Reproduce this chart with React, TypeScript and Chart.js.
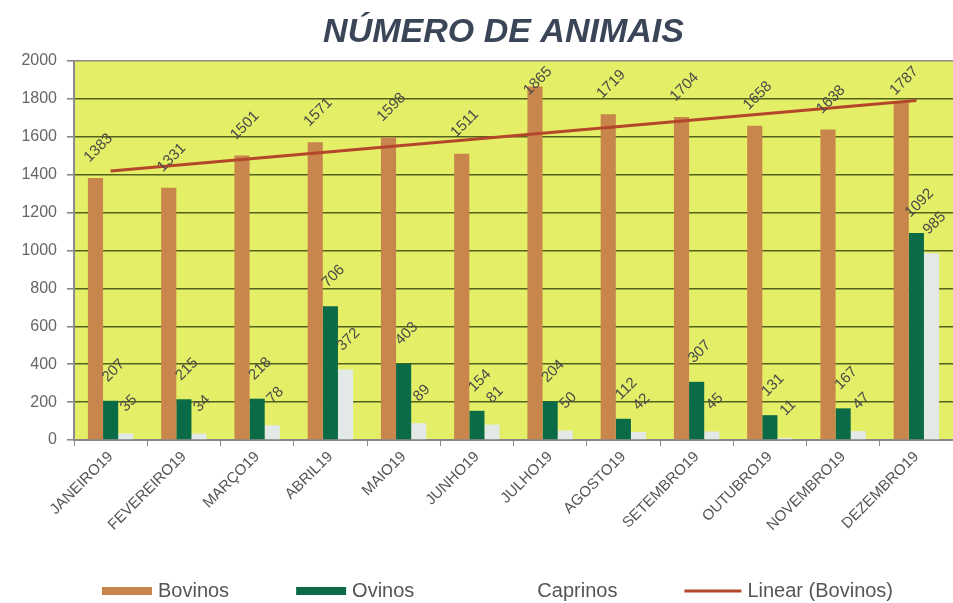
import React, { useEffect, useRef } from "react";
import { Chart, registerables } from "chart.js";

Chart.register(...registerables);

const categories = [
  "JANEIRO19", "FEVEREIRO19", "MARÇO19", "ABRIL19", "MAIO19", "JUNHO19",
  "JULHO19", "AGOSTO19", "SETEMBRO19", "OUTUBRO19", "NOVEMBRO19", "DEZEMBRO19",
];
const bovinos = [1383, 1331, 1501, 1571, 1598, 1511, 1865, 1719, 1704, 1658, 1638, 1787];
const ovinos = [207, 215, 218, 706, 403, 154, 204, 112, 307, 131, 167, 1092];
const caprinos = [35, 34, 78, 372, 89, 81, 50, 42, 45, 11, 47, 985];
// Trendline "Linear (Bovinos)" read at its two ends
const trendBovinos = [1419, null, null, null, null, null, null, null, null, null, null, 1792];
const yTicks = [0, 200, 400, 600, 800, 1000, 1200, 1400, 1600, 1800, 2000];
const titleText = "NÚMERO DE ANIMAIS";

const FONT = "'Liberation Sans', Arial, sans-serif";

const plotBg = {
  id: "plotBg",
  beforeDraw(chart: any) {
    const { ctx, chartArea } = chart;
    ctx.save();
    ctx.fillStyle = "#e4ee66";
    ctx.fillRect(chartArea.left, chartArea.top, chartArea.right - chartArea.left, chartArea.bottom - chartArea.top);
    ctx.restore();
  },
};

const valueLabels = {
  id: "valueLabels",
  afterDatasetsDraw(chart: any) {
    const { ctx, chartArea } = chart;
    ctx.save();
    ctx.font = `15px ${FONT}`;
    ctx.fillStyle = "#4a4a4a";
    ctx.textAlign = "center";
    ctx.textBaseline = "middle";
    [0, 1, 2].forEach((di) => {
      const meta = chart.getDatasetMeta(di);
      const data = chart.data.datasets[di].data;
      meta.data.forEach((el: any, i: number) => {
        ctx.save();
        ctx.translate(el.x + 3, Math.max(el.y - 30, chartArea.top + 20));
        ctx.rotate(-Math.PI / 4);
        ctx.fillText(String(data[i]), 0, 0);
        ctx.restore();
      });
    });
    ctx.restore();
  },
};

// Title and legend centred on the plot area (as in the original spreadsheet chart)
const titleAndLegend = {
  id: "titleAndLegend",
  afterDraw(chart: any) {
    const { ctx, chartArea } = chart;
    const cx = (chartArea.left + chartArea.right) / 2 - 10;
    ctx.save();
    ctx.font = `italic bold 34px ${FONT}`;
    ctx.fillStyle = "#3a4657";
    ctx.textAlign = "center";
    ctx.textBaseline = "middle";
    ctx.fillText(titleText, cx, 33);

    ctx.font = `20px ${FONT}`;
    ctx.textBaseline = "middle";
    ctx.textAlign = "left";
    const swW = 50, lineW = 57, gapText = 6, gapItem = 67;
    const items = chart.data.datasets.map((ds: any, i: number) => {
      const sw = ds.type === "line" ? lineW : swW;
      return { ds, i, sw, w: sw + gapText + ctx.measureText(ds.label).width };
    });
    const total = items.reduce((a: number, it: any) => a + it.w, 0) + gapItem * (items.length - 1);
    let x = cx - total / 2 - 6;
    const y = chart.height - 12;
    items.forEach((it: any) => {
      if (it.ds.type === "line") {
        ctx.strokeStyle = it.ds.borderColor;
        ctx.lineWidth = 3;
        ctx.beginPath();
        ctx.moveTo(x, y);
        ctx.lineTo(x + it.sw, y);
        ctx.stroke();
      } else if (it.i !== 2) {
        ctx.fillStyle = it.ds.backgroundColor;
        ctx.fillRect(x, y - 4, it.sw, 8);
      }
      ctx.fillStyle = "#555";
      ctx.fillText(it.ds.label, x + it.sw + gapText, y);
      x += it.w + gapItem;
    });
    ctx.restore();
  },
};

export default function App() {
  const ref = useRef<HTMLCanvasElement>(null);

  useEffect(() => {
    document.body.style.margin = "0";
    const canvas = ref.current!;
    const chart = new Chart(canvas, {
      type: "bar",
      data: {
        labels: categories,
        datasets: [
          { label: "Bovinos", data: bovinos, backgroundColor: "#c8864c", order: 1 } as any,
          { label: "Ovinos", data: ovinos, backgroundColor: "#0b6b47", order: 1 },
          { label: "Caprinos", data: caprinos, backgroundColor: "#e3e9e6", order: 1 },
          {
            type: "line",
            label: "Linear (Bovinos)",
            data: trendBovinos,
            spanGaps: true,
            borderColor: "#b4472b",
            backgroundColor: "#b4472b",
            borderWidth: 3,
            pointRadius: 0,
            order: 0,
          },
        ],
      },
      options: {
        responsive: false,
        animation: false,
        devicePixelRatio: 1,
        layout: { padding: { left: 0, right: 0, top: 61, bottom: 60 } },
        datasets: { bar: { categoryPercentage: 0.62, barPercentage: 1 } },
        plugins: {
          tooltip: { enabled: false },
          title: { display: false },
          legend: { display: false },
        },
        scales: {
          x: {
            offset: true,
            grid: { offset: true, drawOnChartArea: false, drawTicks: true, tickLength: 6, color: "#888" },
            border: { color: "#888", width: 2 },
            ticks: {
              autoSkip: false,
              minRotation: 45,
              maxRotation: 45,
              padding: 2,
              color: "#555",
              font: { family: FONT, size: 15 },
            },
            afterFit: (s: any) => {
              s.height = 103;
            },
          },
          y: {
            min: 0,
            max: 2000,
            afterBuildTicks: (s: any) => {
              s.ticks = yTicks.map((v) => ({ value: v }));
            },
            grid: {
              color: (c: any) => (c.tick && (c.tick.value === 2000 || c.tick.value === 0) ? "#8a8a8a" : "#53611c"),
              lineWidth: 1.6,
              tickLength: 7,
              tickColor: "#888",
            },
            border: { color: "#8a8a8a", width: 2 },
            ticks: {
              color: "#666",
              padding: 10,
              font: { family: FONT, size: 16 },
              callback: (v: any) => String(v),
            },
            afterFit: (s: any) => {
              s.width = 74;
            },
          },
        },
      },
      plugins: [plotBg, valueLabels, titleAndLegend],
    });
    return () => chart.destroy();
  }, []);

  return (
    <div style={{ width: 953, height: 603 }}>
      <canvas ref={ref} width={953} height={603} style={{ display: "block" }} />
    </div>
  );
}
